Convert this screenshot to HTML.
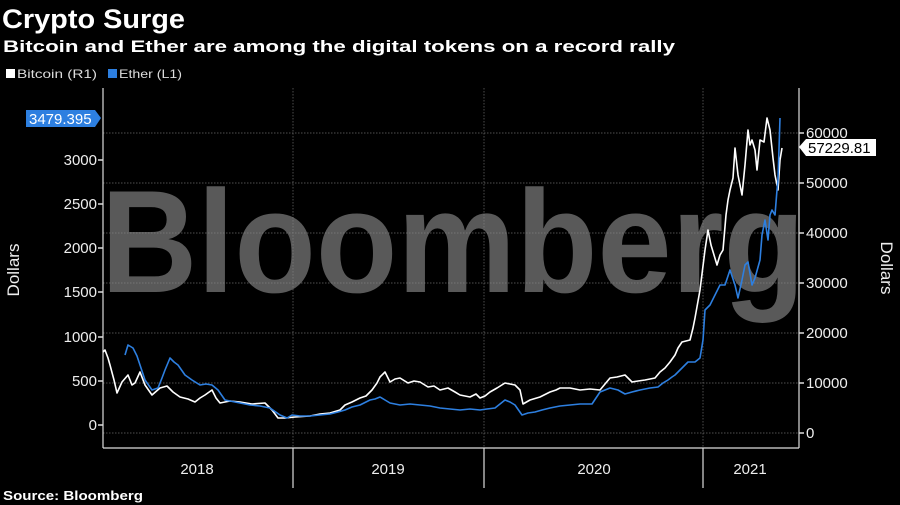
<!DOCTYPE html>
<html><head><meta charset="utf-8"><style>
html,body{margin:0;padding:0;background:#000;}
svg{display:block}
text{font-family:"Liberation Sans",sans-serif;}
</style></head><body>
<svg width="900" height="505" viewBox="0 0 900 505" xmlns="http://www.w3.org/2000/svg">
<rect width="900" height="505" fill="#000"/>
<text x="2" y="28" font-size="27" font-weight="bold" fill="#fff" textLength="183" lengthAdjust="spacingAndGlyphs">Crypto Surge</text>
<text x="3" y="52" font-size="17" font-weight="bold" fill="#fff" textLength="672" lengthAdjust="spacingAndGlyphs">Bitcoin and Ether are among the digital tokens on a record rally</text>
<rect x="6" y="69" width="9" height="9" fill="#fff"/>
<text x="17" y="78" font-size="12" fill="#ddd" textLength="80" lengthAdjust="spacingAndGlyphs">Bitcoin (R1)</text>
<rect x="108" y="69" width="9" height="9" fill="#2d7fe0"/>
<text x="119" y="78" font-size="12" fill="#ddd" textLength="63" lengthAdjust="spacingAndGlyphs">Ether (L1)</text>
<!-- watermark -->
<text x="101" y="292" font-size="146" font-weight="bold" fill="#595959" textLength="704" lengthAdjust="spacingAndGlyphs">Bloomberg</text>
<!-- grid -->
<g stroke="#888" stroke-width="0.7" stroke-dasharray="1.5,1.5" opacity="0.8">
<line x1="103" y1="133" x2="799" y2="133"/><line x1="103" y1="183" x2="799" y2="183"/>
<line x1="103" y1="233" x2="799" y2="233"/><line x1="103" y1="283" x2="799" y2="283"/>
<line x1="103" y1="333" x2="799" y2="333"/><line x1="103" y1="383" x2="799" y2="383"/>
<line x1="103" y1="433" x2="799" y2="433"/>
<line x1="293" y1="88" x2="293" y2="447"/><line x1="484" y1="88" x2="484" y2="447"/><line x1="703" y1="88" x2="703" y2="447"/>
</g>
<!-- axes -->
<g stroke="#ddd" stroke-width="1.2">
<line x1="103" y1="88" x2="103" y2="448"/>
<line x1="799" y1="88" x2="799" y2="448"/>
<line x1="103" y1="448" x2="799" y2="448"/>
<line x1="293" y1="448" x2="293" y2="488"/><line x1="484" y1="448" x2="484" y2="488"/><line x1="703" y1="448" x2="703" y2="488"/>
</g>
<g fill="#eee" font-size="15" text-anchor="end">
<text x="97" y="430">0</text><text x="97" y="386">500</text><text x="97" y="342">1000</text>
<text x="97" y="297">1500</text><text x="97" y="253">2000</text><text x="97" y="209">2500</text><text x="97" y="165">3000</text>
</g>
<g stroke="#ddd" stroke-width="1.5">
<line x1="98" y1="425" x2="103" y2="425"/><line x1="98" y1="381" x2="103" y2="381"/><line x1="98" y1="337" x2="103" y2="337"/>
<line x1="98" y1="292" x2="103" y2="292"/><line x1="98" y1="248" x2="103" y2="248"/><line x1="98" y1="204" x2="103" y2="204"/><line x1="98" y1="160" x2="103" y2="160"/>
<line x1="799" y1="433" x2="804" y2="433"/><line x1="799" y1="383" x2="804" y2="383"/><line x1="799" y1="333" x2="804" y2="333"/>
<line x1="799" y1="283" x2="804" y2="283"/><line x1="799" y1="233" x2="804" y2="233"/><line x1="799" y1="183" x2="804" y2="183"/><line x1="799" y1="133" x2="804" y2="133"/>
</g>
<g fill="#eee" font-size="15">
<text x="806" y="438">0</text><text x="806" y="388">10000</text><text x="806" y="338">20000</text>
<text x="806" y="288">30000</text><text x="806" y="238">40000</text><text x="806" y="188">50000</text><text x="806" y="138">60000</text>
</g>
<text transform="translate(19,270) rotate(-90)" font-size="17" fill="#eee" text-anchor="middle">Dollars</text>
<text transform="translate(881,268) rotate(90)" font-size="17" fill="#eee" text-anchor="middle">Dollars</text>
<g fill="#eee" font-size="15" text-anchor="middle">
<text x="197" y="474">2018</text><text x="388" y="474">2019</text><text x="594" y="474">2020</text><text x="750" y="474">2021</text>
</g>
<text x="3" y="500" font-size="13" font-weight="bold" fill="#fff" textLength="140" lengthAdjust="spacingAndGlyphs">Source: Bloomberg</text>
<!-- Bitcoin -->
<polyline fill="none" stroke="#fff" stroke-width="1.6" stroke-linejoin="round" points="103,352 105,350 108,358 110,365 114,380 117,393 122,382 128,375 132,385 135,383 140,372 145,385 152,395 160,388 167,386 173,392 180,397 188,399 195,402 200,398 205,395 212,390 216,398 220,403 230,401 240,402 252,404 265,403 272,410 278,418 285,418 295,417 310,416 320,414 330,413 340,410 345,405 352,402 360,398 366,396 372,390 377,383 380,377 385,372 390,382 395,379 400,378 408,383 414,381 420,382 428,387 434,386 440,390 448,388 455,392 460,395 470,397 476,394 480,398 485,396 490,392 497,388 505,383 510,384 515,385 520,390 523,404 530,400 540,397 550,392 556,390 560,388 570,388 580,390 590,389 600,390 605,384 610,378 617,377 625,375 632,382 638,381 645,380 655,378 660,372 665,368 670,362 675,355 678,348 682,342 690,340 693,328 695,318 700,290 705,250 708,230 711,245 714,255 717,265 720,255 723,250 726,215 728,200 730,190 733,178 735,148 738,175 742,195 745,165 748,130 750,145 752,140 755,150 757,170 760,140 764,142 767,118 770,130 773,158 775,175 778,190 780,160 782,148"/>
<!-- Ether -->
<polyline fill="none" stroke="#2d7fe0" stroke-width="1.6" stroke-linejoin="round" points="125,355 128,345 133,348 137,356 140,365 145,380 152,390 158,388 162,378 165,370 170,358 174,362 178,365 185,375 192,380 200,385 206,384 212,385 218,390 225,400 235,402 250,405 260,406 270,408 280,415 287,418 292,415 300,416 310,416 320,415 330,414 338,412 345,410 352,407 360,405 370,400 375,399 380,397 385,400 390,403 400,405 410,404 420,405 430,406 440,408 450,409 460,410 470,409 480,410 487,409 495,408 505,400 510,402 515,405 522,415 528,413 535,412 542,410 550,408 560,406 570,405 580,404 592,404 596,398 600,392 605,390 610,388 618,390 625,394 632,392 640,390 650,388 658,387 663,383 668,380 672,377 675,375 680,370 684,366 688,362 695,362 700,358 703,340 705,310 710,305 715,295 720,285 725,285 730,270 735,285 738,298 742,280 745,265 748,262 752,285 755,278 760,260 762,235 765,220 768,240 770,215 772,210 775,215 777,190 778,180 780,118"/>
<!-- value labels -->
<path d="M26,110 H95 L101,118 L95,127 H26 Z" fill="#2d7fe0"/>
<text x="29" y="124" font-size="15" fill="#fff">3479.395</text>
<path d="M799,147 L806,139 H876 V156 H806 Z" fill="#fff"/>
<text x="808" y="153" font-size="15" fill="#000">57229.81</text>
</svg>
</body></html>
